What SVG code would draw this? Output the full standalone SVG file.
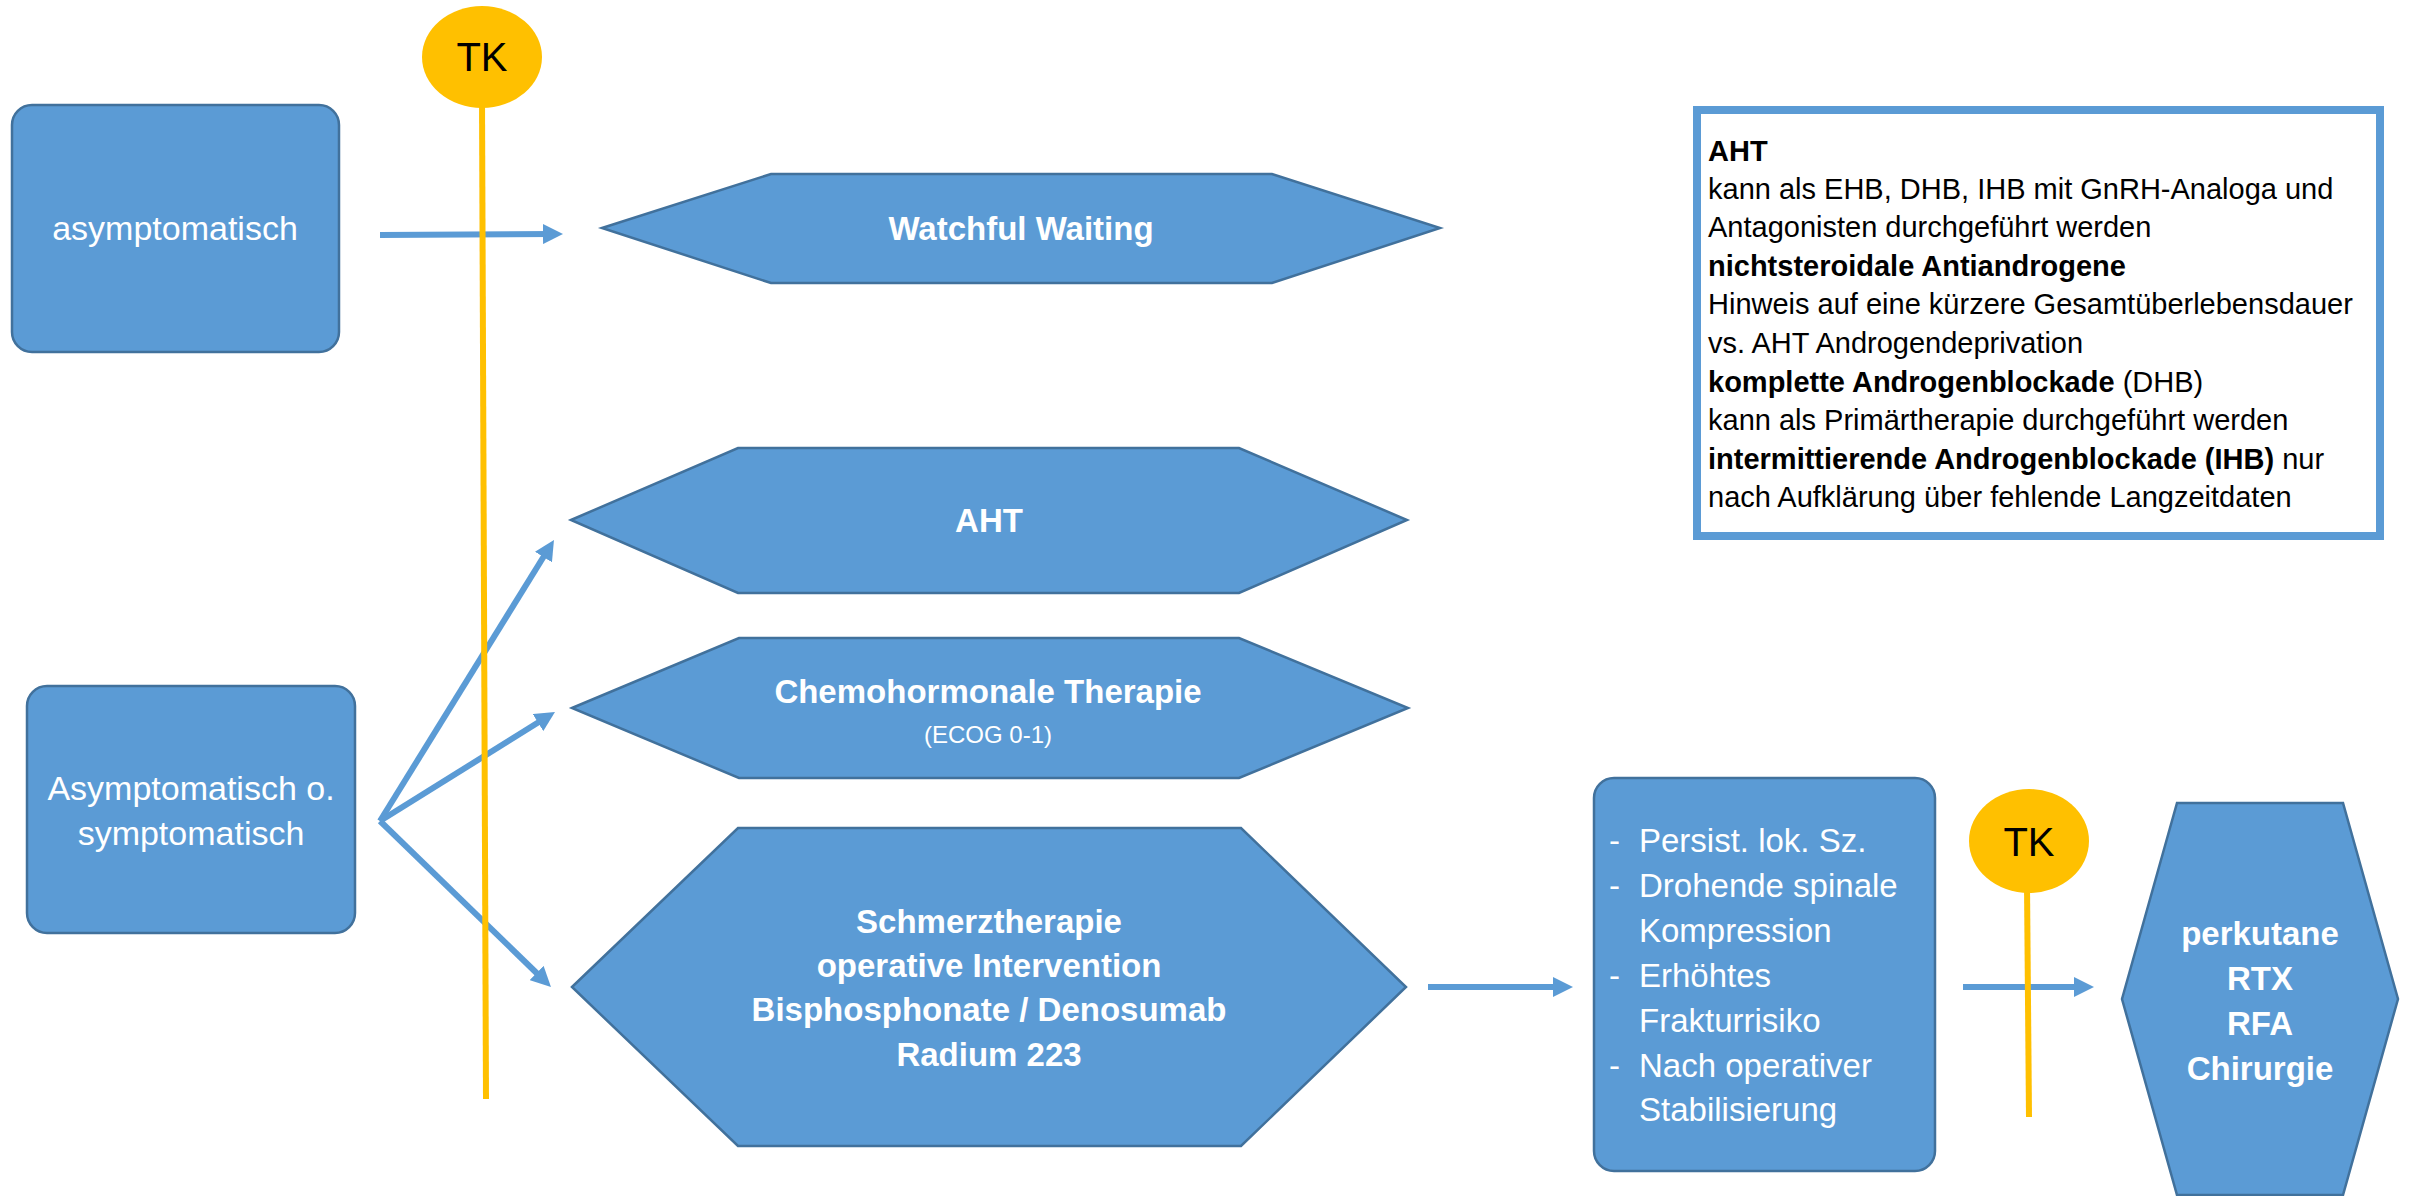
<svg xmlns="http://www.w3.org/2000/svg" width="2414" height="1196" viewBox="0 0 2414 1196">
<defs>
<style>
.shape{fill:#5B9BD5;stroke:#41719C;stroke-width:2.5}
.wt{font-family:"Liberation Sans",Arial,sans-serif;fill:#FFFFFF;font-size:34px}
.wb{font-family:"Liberation Sans",Arial,sans-serif;fill:#FFFFFF;font-size:33px;font-weight:bold}
.lt{font-family:"Liberation Sans",Arial,sans-serif;fill:#FFFFFF;font-size:33px}
.it{font-family:"Liberation Sans",Arial,sans-serif;fill:#000000;font-size:29px}
.tk{font-family:"Liberation Sans",Arial,sans-serif;fill:#000000;font-size:40px}
.conn{stroke:#5B9BD5;stroke-width:6;fill:none}
.tkline{stroke:#FFC000;stroke-width:6;fill:none}
</style>
<marker id="ah" markerUnits="userSpaceOnUse" markerWidth="20" markerHeight="20" viewBox="0 0 20 20" refX="10" refY="10" orient="auto">
<path d="M0,0 L20,10 L0,20 z" fill="#5B9BD5"/>
</marker>
</defs>
<rect width="2414" height="1196" fill="#FFFFFF"/>

<g id="node-asymptomatisch">
<rect class="shape" x="12" y="105" width="327" height="247" rx="20"/>
<text class="wt" x="175" y="240" text-anchor="middle">asymptomatisch</text>
</g>

<g id="node-asym-o-sym">
<rect class="shape" x="27" y="686" width="328" height="247" rx="20"/>
<text class="wt" x="191" y="800" text-anchor="middle">Asymptomatisch o.</text>
<text class="wt" x="191" y="845" text-anchor="middle">symptomatisch</text>
</g>

<g id="node-watchful">
<polygon class="shape" points="602,228 771,174 1272,174 1440,228 1272,283 771,283"/>
<text class="wb" x="1021" y="240" text-anchor="middle">Watchful Waiting</text>
</g>

<g id="node-aht">
<polygon class="shape" points="571,520 738,448 1239,448 1407,520 1239,593 738,593"/>
<text class="wb" x="989" y="532" text-anchor="middle">AHT</text>
</g>

<g id="node-chemo">
<polygon class="shape" points="572,708 739,638 1239,638 1408,708 1239,778 739,778"/>
<text class="wb" x="988" y="703" text-anchor="middle">Chemohormonale Therapie</text>
<text class="it" x="988" y="743" text-anchor="middle" style="fill:#FFFFFF;font-size:24px">(ECOG 0-1)</text>
</g>

<g id="node-schmerz">
<polygon class="shape" points="572,987 738,828 1241,828 1406,987 1241,1146 738,1146"/>
<text class="wb" x="989" y="933" text-anchor="middle">Schmerztherapie</text>
<text class="wb" x="989" y="977" text-anchor="middle">operative Intervention</text>
<text class="wb" x="989" y="1021" text-anchor="middle">Bisphosphonate / Denosumab</text>
<text class="wb" x="989" y="1066" text-anchor="middle">Radium 223</text>
</g>

<g id="node-liste">
<rect class="shape" x="1594" y="778" width="341" height="393" rx="20"/>
<text class="lt" x="1609" y="852">-</text><text class="lt" x="1639" y="852">Persist. lok. Sz.</text>
<text class="lt" x="1609" y="897">-</text><text class="lt" x="1639" y="897">Drohende spinale</text>
<text class="lt" x="1639" y="942">Kompression</text>
<text class="lt" x="1609" y="987">-</text><text class="lt" x="1639" y="987">Erhöhtes</text>
<text class="lt" x="1639" y="1032">Frakturrisiko</text>
<text class="lt" x="1609" y="1077">-</text><text class="lt" x="1639" y="1077">Nach operativer</text>
<text class="lt" x="1639" y="1121">Stabilisierung</text>
</g>

<g id="node-perkutane">
<polygon class="shape" points="2122,999 2177,803 2343,803 2398,999 2343,1195 2177,1195"/>
<text class="wb" x="2260" y="945" text-anchor="middle">perkutane</text>
<text class="wb" x="2260" y="990" text-anchor="middle">RTX</text>
<text class="wb" x="2260" y="1035" text-anchor="middle">RFA</text>
<text class="wb" x="2260" y="1080" text-anchor="middle">Chirurgie</text>
</g>

<g id="node-info">
<rect x="1697" y="110" width="683" height="426" fill="#FFFFFF" stroke="#5B9BD5" stroke-width="8"/>
<text class="it" x="1708" y="161" font-weight="bold">AHT</text>
<text class="it" x="1708" y="199">kann als EHB, DHB, IHB mit GnRH-Analoga und</text>
<text class="it" x="1708" y="237">Antagonisten durchgeführt werden</text>
<text class="it" x="1708" y="276" font-weight="bold">nichtsteroidale Antiandrogene</text>
<text class="it" x="1708" y="314">Hinweis auf eine kürzere Gesamtüberlebensdauer</text>
<text class="it" x="1708" y="353">vs. AHT Androgendeprivation</text>
<text class="it" x="1708" y="392"><tspan font-weight="bold">komplette Androgenblockade</tspan> (DHB)</text>
<text class="it" x="1708" y="430">kann als Primärtherapie durchgeführt werden</text>
<text class="it" x="1708" y="469"><tspan font-weight="bold">intermittierende Androgenblockade (IHB)</tspan> nur</text>
<text class="it" x="1708" y="507">nach Aufklärung über fehlende Langzeitdaten</text>
</g>

<g id="connectors">
<line class="conn" x1="380" y1="235" x2="553" y2="234" marker-end="url(#ah)"/>
<line class="conn" x1="380" y1="821" x2="548.7" y2="548.5" marker-end="url(#ah)"/>
<line class="conn" x1="380" y1="821" x2="546.5" y2="717.3" marker-end="url(#ah)"/>
<line class="conn" x1="380" y1="821" x2="543.8" y2="980" marker-end="url(#ah)"/>
<line class="conn" x1="1428" y1="987" x2="1563" y2="987" marker-end="url(#ah)"/>
<line class="conn" x1="1963" y1="987" x2="2084" y2="987" marker-end="url(#ah)"/>
</g>

<g id="node-tk1">
<line class="tkline" x1="482" y1="100" x2="486" y2="1099"/>
<ellipse cx="482" cy="57" rx="60" ry="51" fill="#FFC000"/>
<text class="tk" x="482" y="71" text-anchor="middle">TK</text>
</g>

<g id="node-tk2">
<line class="tkline" x1="2027" y1="885" x2="2029" y2="1117"/>
<ellipse cx="2029" cy="841" rx="60" ry="52" fill="#FFC000"/>
<text class="tk" x="2029" y="856" text-anchor="middle">TK</text>
</g>
</svg>
